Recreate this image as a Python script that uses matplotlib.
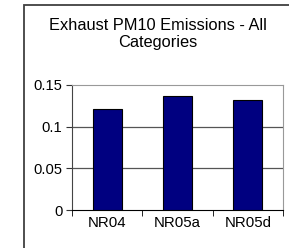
import numpy as np
import matplotlib
matplotlib.use("Agg")
import matplotlib.pyplot as plt
from matplotlib.patches import Rectangle

categories = ["NR04", "NR05a", "NR05d"]
values = [0.121, 0.137, 0.132]
yticks = [0, 0.05, 0.1, 0.15]
ytick_labels = ["0", "0.05", "0.1", "0.15"]

plt.rcParams["font.family"] = ["Liberation Sans", "DejaVu Sans"]

W, H = 289, 248
fig = plt.figure(figsize=(W / 100, H / 100), dpi=100)
fig.patch.set_facecolor("white")

# outer chart frame (runs off the right/bottom edge like the original)
fig.patches.append(Rectangle((23.5 / W, -0.1), 1.0, (H - 4.5) / H + 0.1,
                             transform=fig.transFigure, fill=False,
                             edgecolor="#404040", lw=1.3))

ax = fig.add_axes([72 / W, (H - 210) / H, 211 / W, 125 / H])
x = np.arange(len(categories))
ax.bar(x, values, 0.41, color="#000080", edgecolor="black", lw=0.8, zorder=3)
ax.set_xlim(-0.5, len(categories) - 0.5)
ax.set_ylim(0, 0.15)

ax.set_yticks(yticks)
ax.set_yticklabels(ytick_labels, fontsize=10.6)
for y in yticks[1:3]:
    ax.axhline(y, color="#555555", lw=0.9, zorder=1)

ax.set_xticks(x)
ax.set_xticklabels(categories, fontsize=10.8)
ax.tick_params(axis="x", length=0, pad=4)
ax.set_xticks(np.arange(-0.5, len(categories)), minor=True)
ax.tick_params(axis="x", which="minor", length=4, direction="out", color="black")
ax.tick_params(axis="y", length=4, direction="out", color="#333333", pad=3)

ax.spines["top"].set_color("#999999")
ax.spines["right"].set_color("#999999")
ax.spines["left"].set_color("#444444")
ax.spines["bottom"].set_color("black")

fig.text(158 / W, 1 - 34 / H, "Exhaust PM10 Emissions - All\nCategories",
         ha="center", va="center", fontsize=11.8, linespacing=1.15)

fig.savefig("out.png", dpi=100)
